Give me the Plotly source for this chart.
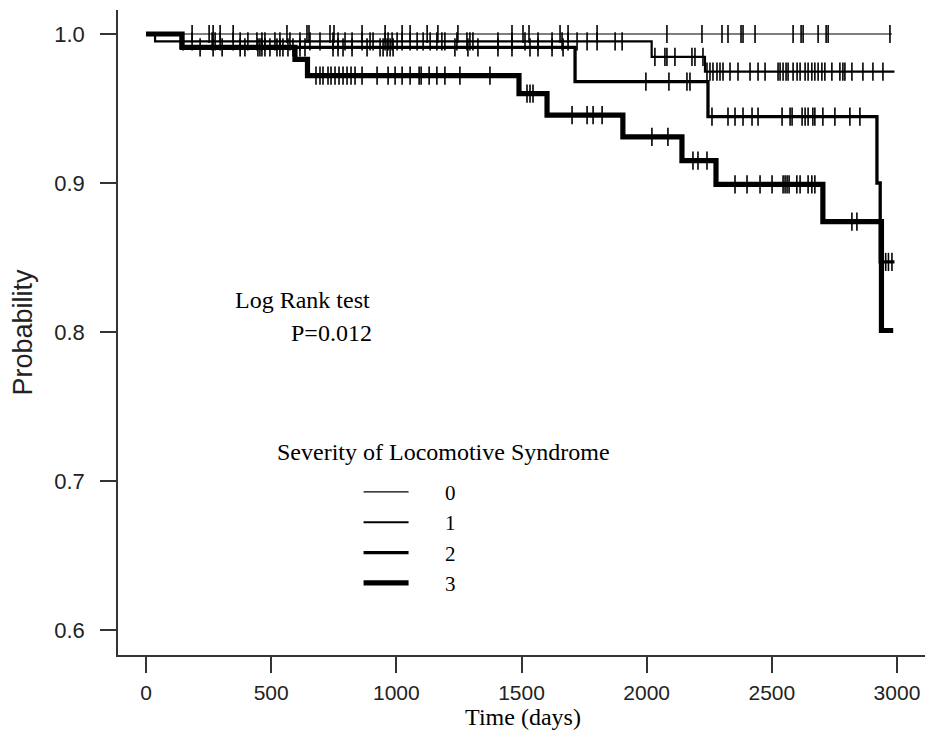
import plotly.graph_objects as go
import bisect

# ---- data (Kaplan-Meier steps) ----
groups = ["0", "1", "2", "3"]

g0_times = [0]
g0_surv = [1.0]
g0_end = 2980
g0_cens = [184, 252, 268, 296, 348, 563, 643, 651, 735, 751, 863, 955, 1023, 1055, 1123, 1166,
           1246, 1462, 1506, 1530, 1654, 1686, 1802, 2081, 2221, 2301, 2325, 2377, 2385, 2433,
           2585, 2617, 2625, 2685, 2717, 2725, 2972]

g1_times = [0, 36, 2020, 2233]
g1_surv = [1.0, 0.995, 0.9846, 0.9747]
g1_end = 2990
g1_cens = [148, 184, 264, 276, 296, 348, 376, 407, 443, 463, 475, 515, 535, 575, 615, 655, 695,
           747, 767, 795, 823, 863, 895, 907, 955, 967, 983, 1003, 1023, 1055, 1083, 1107, 1135,
           1162, 1182, 1194, 1242, 1282, 1294, 1306, 1406, 1462, 1514, 1566, 1622, 1662, 1686,
           1722, 1762, 1802, 1874, 1902,
           2033, 2073, 2081, 2113, 2181, 2193, 2225,
           2241, 2253, 2265, 2281, 2293, 2305, 2333, 2365, 2413, 2445, 2473, 2525, 2533, 2545,
           2557, 2565, 2585, 2601, 2613, 2633, 2645, 2660, 2672, 2685, 2700, 2712, 2740, 2772,
           2784, 2792, 2820, 2864, 2904, 2944]

g2_times = [0, 140, 1714, 2245, 2920, 2933]
g2_surv = [1.0, 0.991, 0.968, 0.9445, 0.900, 0.847]
g2_end = 2990
g2_cens = [268, 376, 447, 463, 475, 523, 547, 567, 587, 615, 635, 747, 767, 787, 823, 883, 935,
           947, 963, 975, 987, 1234, 1286, 1326, 1406, 1462, 1534, 1566, 1622, 1666,
           1997, 2089, 2161, 2173,
           2261, 2325, 2353, 2385, 2421, 2445, 2541, 2573, 2581, 2621, 2633, 2645, 2664, 2672,
           2704, 2752, 2812, 2852,
           2945, 2955, 2966, 2980]

g3_times = [0, 144, 595, 645, 1490, 1602, 1905, 2141, 2277, 2704, 2938]
g3_surv = [1.0, 0.991, 0.983, 0.972, 0.960, 0.9456, 0.931, 0.915, 0.899, 0.874, 0.801]
g3_end = 2985
g3_cens = [216, 304, 395, 455, 495, 535,
           679, 695, 707, 727, 739, 755, 771, 787, 803, 819, 835, 863, 923, 967, 995, 1023,
           1055, 1091, 1099, 1131, 1162, 1194, 1254, 1374,
           1522, 1534, 1546, 1702, 1762, 1786, 1822, 2021, 2085, 2185, 2205, 2241,
           2353, 2401, 2453, 2501, 2545, 2553, 2561, 2569, 2600, 2613, 2645, 2660, 2672,
           2820, 2840]

x_ticks = [0, 500, 1000, 1500, 2000, 2500, 3000]
y_ticks = [0.6, 0.7, 0.8, 0.9, 1.0]
y_ticklabels = ["0.6", "0.7", "0.8", "0.9", "1.0"]

line_widths = [1.2, 2.2, 3.3, 5.2]

series = [
    (g0_times, g0_surv, g0_end, g0_cens),
    (g1_times, g1_surv, g1_end, g1_cens),
    (g2_times, g2_surv, g2_end, g2_cens),
    (g3_times, g3_surv, g3_end, g3_cens),
]


def step_value(times, surv, t):
    i = bisect.bisect_right(times, t) - 1
    return surv[max(i, 0)]


pad = "\u00a0" * 6
fig = go.Figure()
for name, (times, surv, end, cens), lw in zip(groups, series, line_widths):
    xs = list(times) + [end]
    ys = list(surv) + [surv[-1]]
    fig.add_trace(go.Scatter(
        x=xs, y=ys, mode="lines", line=dict(color="black", width=lw, shape="hv"),
        name=pad + name, showlegend=True, hoverinfo="skip"))
    fig.add_trace(go.Scatter(
        x=cens, y=[step_value(times, surv, t) for t in cens], mode="markers",
        marker=dict(symbol="line-ns", size=13, line=dict(color="black", width=1.6)),
        showlegend=False, hoverinfo="skip"))

serif = "Liberation Serif, Times New Roman, serif"
sans = "Liberation Sans, Arial, sans-serif"

fig.add_annotation(x=903, y=0.8215, xref="x", yref="y", text="Log Rank test",
                   showarrow=False, xanchor="right", yanchor="middle",
                   font=dict(family=serif, size=24, color="black"))
fig.add_annotation(x=910, y=0.7993, xref="x", yref="y", text="P=0.012",
                   showarrow=False, xanchor="right", yanchor="middle",
                   font=dict(family=serif, size=24, color="black"))
fig.add_annotation(x=1190, y=0.7195, xref="x", yref="y", text="Severity of Locomotive Syndrome",
                   showarrow=False, xanchor="center", yanchor="middle",
                   font=dict(family=serif, size=24, color="black"))

# page body adds an 8px offset, so the figure is sized to the remaining viewport
fig.update_layout(
    width=925, height=734,
    margin=dict(l=110, r=5, t=2, b=87),
    paper_bgcolor="white", plot_bgcolor="white",
    showlegend=True,
    legend=dict(x=0.297, y=0.284, xanchor="left", yanchor="top",
                bgcolor="rgba(0,0,0,0)", font=dict(family=serif, size=21, color="black"),
                itemwidth=45, tracegroupgap=0),
    xaxis=dict(range=[-112, 3124], tickvals=x_ticks, showline=True, linecolor="#333",
               linewidth=1.5, ticks="outside", ticklen=16, tickwidth=1.5, tickcolor="#333",
               showgrid=False, zeroline=False, ticklabelstandoff=2, automargin=False,
               tickfont=dict(family=sans, size=21, color="#222"),
               title=dict(text="Time (days)", standoff=0,
                          font=dict(family=serif, size=24, color="black"))),
    yaxis=dict(range=[0.5832, 1.0161], tickvals=y_ticks, ticktext=y_ticklabels,
               showline=True, linecolor="#333", linewidth=1.5, ticks="outside",
               ticklen=16, tickwidth=1.5, tickcolor="#333", showgrid=False, zeroline=False,
               ticklabelstandoff=11, automargin=False,
               tickfont=dict(family=sans, size=22, color="#222"),
               title=dict(text="\u00a0\u00a0Probability", standoff=18,
                          font=dict(family=sans, size=27, color="#222"))),
)

fig.write_html("out.html")
